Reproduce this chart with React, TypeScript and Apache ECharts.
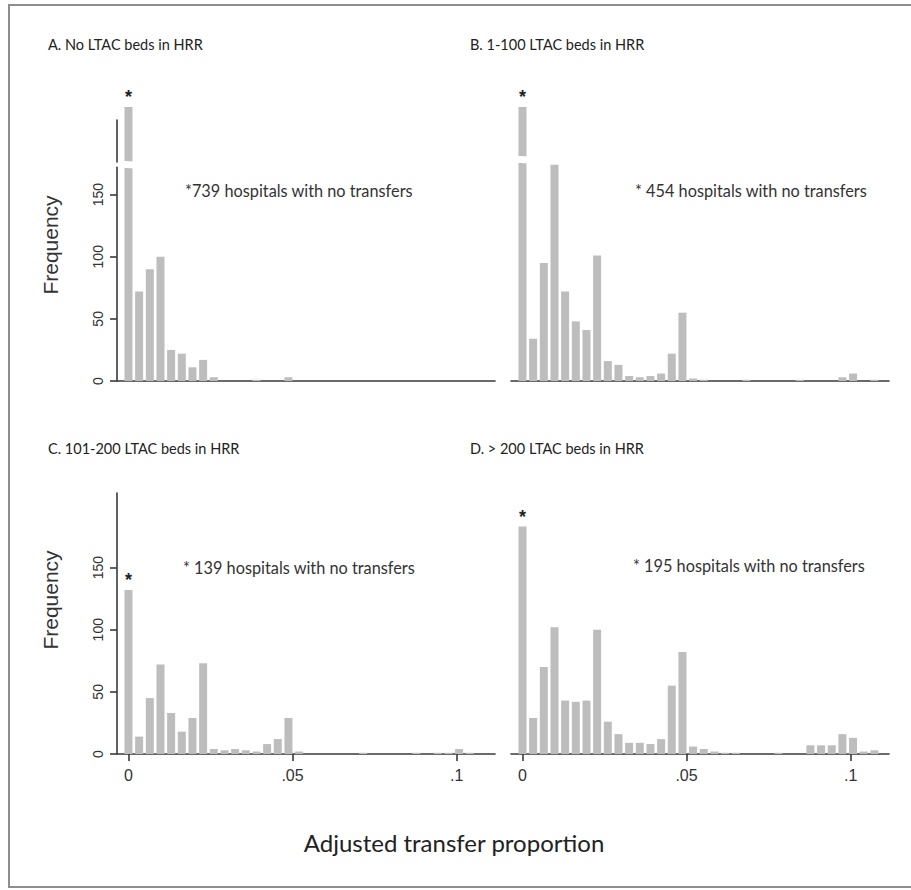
import React, { useEffect, useRef } from "react";
import * as echarts from "echarts";

// ---- data ----
const BIN_WIDTH = 0.00325; // width of one histogram bin on the transfer-proportion scale

const freqA = [739, 72, 90, 100, 25, 22, 11, 17, 3, 0, 0, 0, 1, 0, 0, 3, 0, 0, 0, 0, 0, 0, 0, 0, 0, 0, 0, 0, 0, 0, 0, 0, 0, 0];
const freqB = [454, 34, 95, 174, 72, 48, 41, 101, 16, 13, 4, 3, 4, 6, 22, 55, 2, 1, 0, 0, 0, 1, 0, 0, 0, 0, 1, 0, 0, 0, 3, 6, 0, 1];
const freqC = [132, 14, 45, 72, 33, 18, 29, 73, 4, 3, 4, 3, 2, 8, 12, 29, 2, 0, 0, 0, 0, 0, 1, 0, 0, 0, 0, 1, 0, 1, 1, 4, 1, 0];
const freqD = [183, 29, 70, 102, 43, 42, 43, 100, 26, 16, 9, 9, 8, 12, 55, 82, 6, 4, 2, 1, 1, 0, 0, 0, 1, 0, 0, 7, 7, 7, 16, 13, 2, 3];

const panelTitles = [
  "A. No LTAC beds in HRR",
  "B. 1-100 LTAC beds in HRR",
  "C. 101-200 LTAC beds in HRR",
  "D. > 200 LTAC beds in HRR",
];
const noTransferCounts = [739, 454, 139, 195];
const noTransferPrefix = ["*", "* ", "* ", "* "];

const yTickValues = [0, 50, 100, 150];
const xTickValues = [0, 0.05, 0.1];

// y-axis breaks for the top row (bar 0 is cut)
const breakA = { start: 172, end: 696 };
const breakB = { start: 176, end: 415 };
const yMaxTop = [739, 454];
const yMaxBottom = 210;

const xAxisTitle = "Adjusted transfer proportion";
const yAxisTitle = "Frequency";

// ---- styling ----
const BAR_COLOR = "#bdbdbd";
const AXIS_COLOR = "#3a3a3a";
const SANS = "'Liberation Sans', Arial, sans-serif";
const CAL = "Lato, 'Open Sans', sans-serif";
const X_MIN = -0.0035;
const X_MAX = 0.1117;

const grids = [
  { left: 117, top: 107, width: 378, height: 274 },
  { left: 511, top: 107, width: 378, height: 274 },
  { left: 117, top: 493, width: 378, height: 261 },
  { left: 511, top: 493, width: 378, height: 261 },
  // axis-only grids that draw panel A's broken y axis (lower and upper piece)
  { left: 117, top: 167.3, width: 378, height: 213.7 },
  { left: 117, top: 120, width: 378, height: 42 },
];

function toPairs(arr: number[]) {
  return arr.map((v, i) => [i * BIN_WIDTH, v]);
}

function fmtX(v: number) {
  if (v === 0) return "0";
  return String(Math.round(v * 100) / 100).replace(/^0/, "");
}

export default function App() {
  const ref = useRef<HTMLDivElement>(null);

  useEffect(() => {
    document.body.style.margin = "0";
    if (!ref.current) return;
    const chart = echarts.init(ref.current, undefined, { renderer: "svg" });

    const axisLineStyle = { color: AXIS_COLOR, width: 1.6 };

    const xAxes: any[] = grids.slice(0, 4).map((_, i) => {
      const bottomRow = i >= 2;
      return {
        gridIndex: i,
        type: "value",
        min: X_MIN,
        max: X_MAX,
        axisLine: { show: true, onZero: false, lineStyle: axisLineStyle },
        axisTick: bottomRow
          ? { show: true, customValues: xTickValues, length: 7, lineStyle: axisLineStyle }
          : { show: false },
        axisLabel: bottomRow
          ? {
              show: true,
              customValues: xTickValues,
              formatter: (v: number) => fmtX(v),
              fontSize: 16,
              color: "#333",
              fontFamily: SANS,
              margin: 13,
            }
          : { show: false },
        splitLine: { show: false },
      };
    });
    xAxes.push(
      { gridIndex: 4, type: "value", min: X_MIN, max: X_MAX, show: false },
      { gridIndex: 5, type: "value", min: X_MIN, max: X_MAX, show: false }
    );

    const breakArea = {
      show: true,
      itemStyle: { color: "#ffffff", borderColor: "#ffffff", borderWidth: 0, opacity: 1 },
      zigzagAmplitude: 1,
      zigzagZ: 100,
      expandOnClick: false,
    };

    const leftAxisCommon = (shown: boolean) => ({
      type: "value",
      min: 0,
      axisLine: { show: shown, onZero: false, lineStyle: axisLineStyle },
      axisTick: shown
        ? { show: true, customValues: yTickValues, length: 7, lineStyle: axisLineStyle }
        : { show: false },
      axisLabel: shown
        ? {
            show: true,
            customValues: yTickValues,
            rotate: 90,
            fontSize: 14,
            color: "#333",
            fontFamily: SANS,
            margin: 12,
          }
        : { show: false },
      splitLine: { show: false },
    });

    const yAxes = [
      {
        ...leftAxisCommon(false),
        gridIndex: 0,
        max: yMaxTop[0],
        breaks: [{ start: breakA.start, end: breakA.end, gap: "2.5%" }],
        breakArea,
      },
      {
        ...leftAxisCommon(false),
        gridIndex: 1,
        max: yMaxTop[1],
        breaks: [{ start: breakB.start, end: breakB.end, gap: "2.5%" }],
        breakArea,
      },
      { ...leftAxisCommon(true), gridIndex: 2, max: yMaxBottom },
      { ...leftAxisCommon(false), gridIndex: 3, max: yMaxBottom },
      // panel A visible axis: lower piece (0 .. break start) with ticks and labels
      { ...leftAxisCommon(true), gridIndex: 4, max: breakA.start, z: 300 },
      // panel A visible axis: upper piece above the break, line only
      {
        type: "value",
        gridIndex: 5,
        min: 0,
        max: 1,
        z: 300,
        axisLine: { show: true, onZero: false, lineStyle: axisLineStyle },
        axisTick: { show: false },
        axisLabel: { show: false },
        splitLine: { show: false },
      },
    ];

    const freqs = [freqA, freqB, freqC, freqD];
    const series = freqs.map((f, i) => ({
      type: "bar",
      xAxisIndex: i,
      yAxisIndex: i,
      data: toPairs(f),
      barWidth: 8,
      itemStyle: { color: BAR_COLOR },
      label: {
        show: true,
        position: "top",
        distance: 1,
        formatter: (p: any) => (p.dataIndex === 0 ? "*" : ""),
        fontSize: 18,
        fontWeight: "bold",
        color: "#222",
        fontFamily: SANS,
      },
    }));

    const titlePos = [
      { x: 48, y: 44 },
      { x: 470, y: 44 },
      { x: 48, y: 448 },
      { x: 470, y: 448 },
    ];
    const notePos = [
      { x: 185, y: 190 },
      { x: 635, y: 190 },
      { x: 183, y: 567 },
      { x: 633, y: 565 },
    ];

    const graphics: any[] = [
      {
        type: "rect",
        shape: { x: 9, y: 5, width: 1000, height: 882 },
        style: { fill: "none", stroke: "#8e8e8e", lineWidth: 2 },
        silent: true,
      },
    ];
    panelTitles.forEach((t, i) => {
      graphics.push({
        type: "text",
        x: titlePos[i].x,
        y: titlePos[i].y,
        style: {
          text: t,
          fontSize: 14.5,
          fontFamily: CAL,
          fill: "#222",
          textAlign: "left",
          textVerticalAlign: "middle",
        },
      });
      graphics.push({
        type: "text",
        x: notePos[i].x,
        y: notePos[i].y,
        style: {
          text: `${noTransferPrefix[i]}${noTransferCounts[i]} hospitals with no transfers`,
          fontSize: 16.3,
          fontFamily: CAL,
          fill: "#333",
          textAlign: "left",
          textVerticalAlign: "middle",
        },
      });
    });
    [245, 600].forEach((cy) => {
      graphics.push({
        type: "text",
        x: 50,
        y: cy,
        rotation: Math.PI / 2,
        style: {
          text: yAxisTitle,
          fontSize: 21,
          fontFamily: SANS,
          fill: "#333",
          textAlign: "center",
          textVerticalAlign: "middle",
        },
      });
    });
    graphics.push({
      type: "text",
      x: 454,
      y: 842,
      style: {
        text: xAxisTitle,
        fontSize: 24,
        fontFamily: CAL,
        fill: "#222",
        textAlign: "center",
        textVerticalAlign: "middle",
      },
    });

    chart.setOption({
      animation: false,
      backgroundColor: "#ffffff",
      grid: grids.map((g) => ({ ...g, containLabel: false })),
      xAxis: xAxes,
      yAxis: yAxes,
      series,
      graphic: graphics,
    } as any);

    return () => chart.dispose();
  }, []);

  return <div ref={ref} style={{ width: 911, height: 890 }} />;
}
